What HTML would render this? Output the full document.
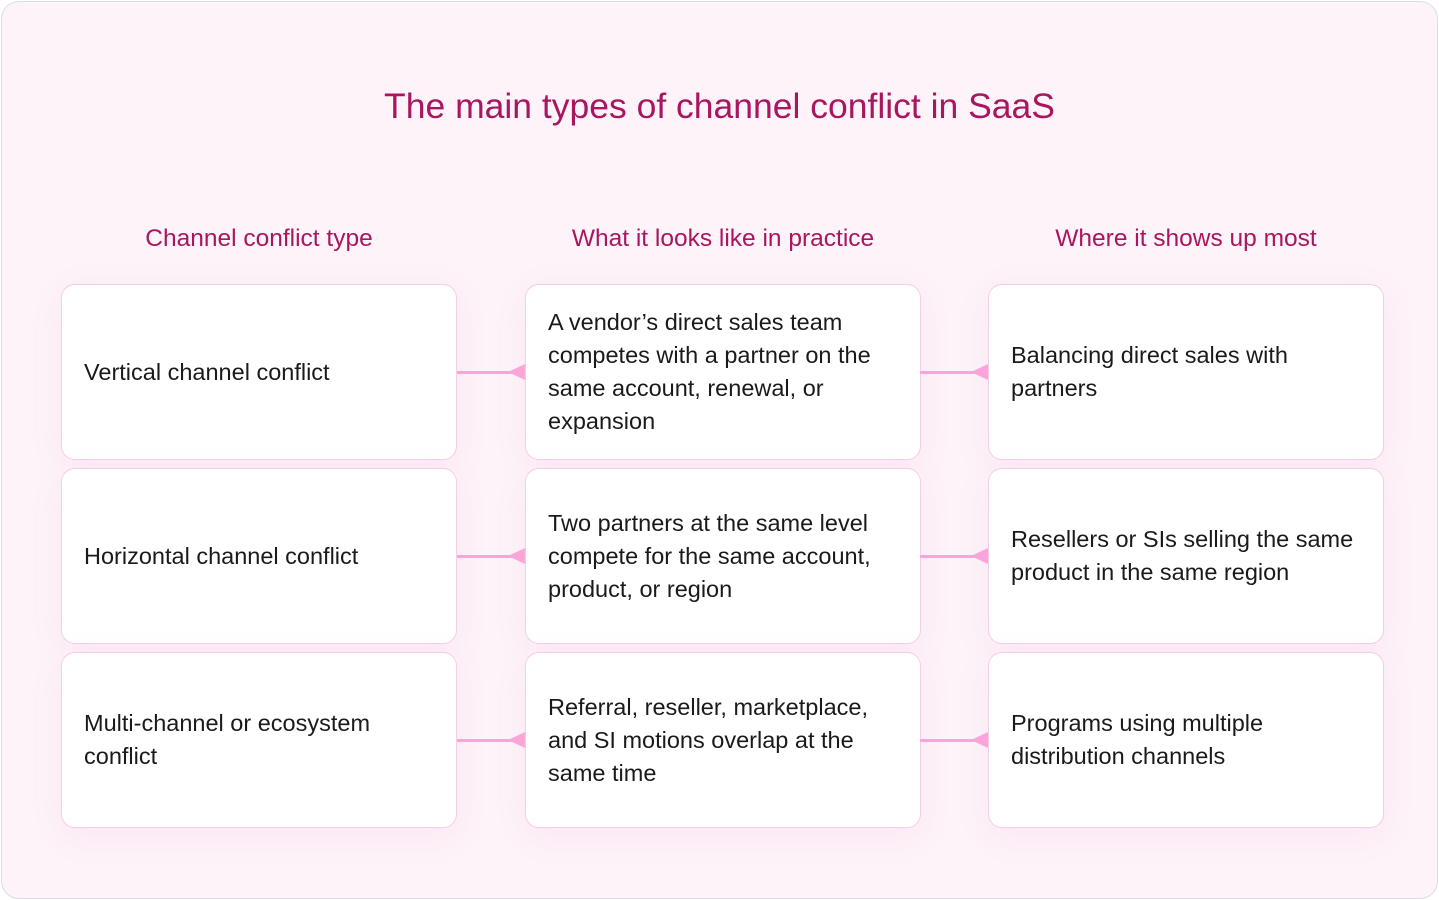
<!DOCTYPE html>
<html><head><meta charset="utf-8"><style>
*{margin:0;padding:0;box-sizing:border-box}
body{width:1439px;height:900px;background:#fff;font-family:"Liberation Sans",sans-serif;position:relative;overflow:hidden}
.frame{position:absolute;left:1px;top:1px;width:1437px;height:898px;border:1.5px solid #dcdce6;border-radius:18px;background:#fdf3f9}
.title{position:absolute;left:0;width:1439px;top:86px;text-align:center;font-size:35.5px;color:#a8165f}
.hd{position:absolute;top:225px;width:396px;text-align:center;font-size:24.5px;color:#a8165f}
.box{position:absolute;width:396px;height:176px;background:#fff;border:1.5px solid #f6cde6;border-radius:14px;display:flex;align-items:center;padding:0 12px 0 22px;font-size:23.5px;line-height:33px;color:#1a1a1a;box-shadow:0 8px 30px rgba(240,150,200,0.12)}
.ln{position:absolute;height:3px;background:#f9a5d8;width:68px}
.ar{position:absolute;width:0;height:0;border-top:8px solid transparent;border-bottom:8px solid transparent;border-right:17px solid #f9a5d8}
</style></head><body>
<div class="frame"></div>
<div class="title">The main types of channel conflict in SaaS</div>
<div class="hd" style="left:61px">Channel conflict type</div>
<div class="hd" style="left:525px">What it looks like in practice</div>
<div class="hd" style="left:988px">Where it shows up most</div>

<div class="box" style="left:61px;top:284px">Vertical channel conflict</div>
<div class="box" style="left:525px;top:284px">A vendor’s direct sales team competes with a partner on the same account, renewal, or expansion</div>
<div class="box" style="left:988px;top:284px">Balancing direct sales with partners</div>

<div class="box" style="left:61px;top:468px">Horizontal channel conflict</div>
<div class="box" style="left:525px;top:468px">Two partners at the same level compete for the same account, product, or region</div>
<div class="box" style="left:988px;top:468px">Resellers or SIs selling the same product in the same region</div>

<div class="box" style="left:61px;top:652px">Multi-channel or ecosystem conflict</div>
<div class="box" style="left:525px;top:652px">Referral, reseller, marketplace, and SI motions overlap at the same time</div>
<div class="box" style="left:988px;top:652px">Programs using multiple distribution channels</div>

<div class="ln" style="left:457px;top:371px"></div><div class="ar" style="left:508px;top:364px"></div>
<div class="ln" style="left:920px;top:371px"></div><div class="ar" style="left:971px;top:364px"></div>
<div class="ln" style="left:457px;top:555px"></div><div class="ar" style="left:508px;top:548px"></div>
<div class="ln" style="left:920px;top:555px"></div><div class="ar" style="left:971px;top:548px"></div>
<div class="ln" style="left:457px;top:739px"></div><div class="ar" style="left:508px;top:732px"></div>
<div class="ln" style="left:920px;top:739px"></div><div class="ar" style="left:971px;top:732px"></div>
</body></html>
